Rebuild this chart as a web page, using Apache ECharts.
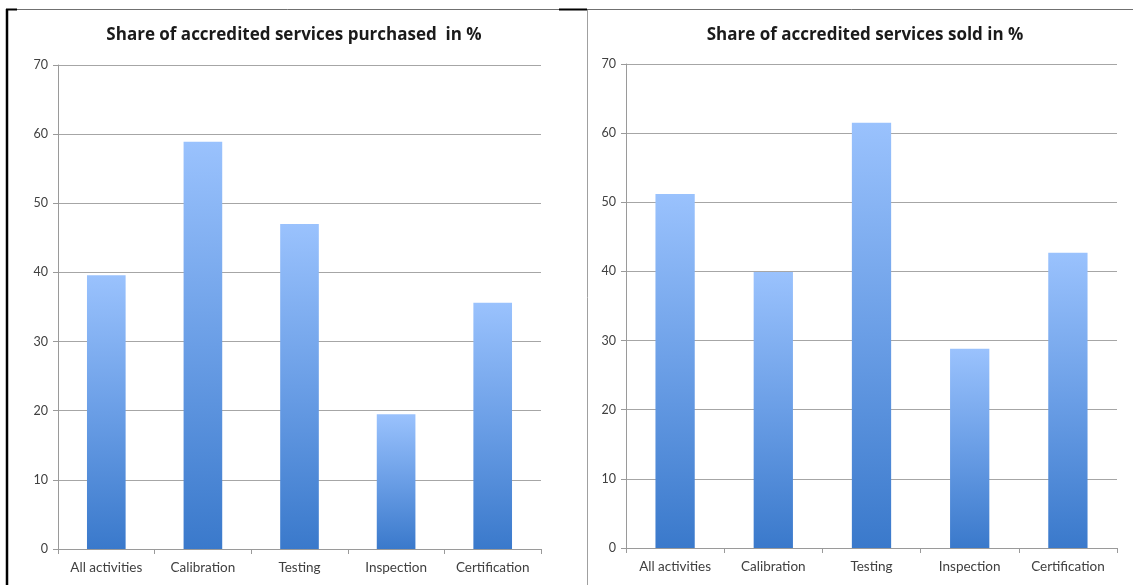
<!DOCTYPE html>
<html>
<head>
<meta charset="utf-8">
<script src="https://cdn.jsdelivr.net/npm/echarts@6/dist/echarts.min.js"></script>
<style>
html,body{margin:0;padding:0;background:#fff;}
#chart{width:1133px;height:585px;}
</style>
</head>
<body>
<div id="chart"></div>
<script>
const categories = ['All activities', 'Calibration', 'Testing', 'Inspection', 'Certification'];
const purchasedValues = [39.6, 58.9, 47.0, 19.5, 35.6];
const soldValues = [51.2, 39.9, 61.5, 28.8, 42.7];
const yTicks = [0, 10, 20, 30, 40, 50, 60, 70];
const titleLeft = 'Share of accredited services purchased  in %';
const titleRight = 'Share of accredited services sold in %';

const FONT = 'Lato, "Open Sans", sans-serif';
const TITLE_FONT = '"Open Sans", Lato, sans-serif';
const barGradient = new echarts.graphic.LinearGradient(0, 0, 0, 1, [
  { offset: 0, color: '#9ac2fd' },
  { offset: 0.5, color: '#6a9ee6' },
  { offset: 1, color: '#3a79cb' }
]);

function xAxis(gridIndex) {
  return {
    type: 'category', gridIndex, data: categories,
    axisLine: { lineStyle: { color: '#9a9a9a', width: 1 } },
    axisTick: { show: true, inside: false, length: 5, alignWithLabel: false, lineStyle: { color: '#9a9a9a' } },
    axisLabel: { color: '#404040', fontFamily: FONT, fontSize: 13.5, margin: 12 }
  };
}
function yAxis(gridIndex) {
  return {
    type: 'value', gridIndex, min: yTicks[0], max: yTicks[yTicks.length - 1], interval: yTicks[1] - yTicks[0],
    axisLine: { show: true, lineStyle: { color: '#9a9a9a', width: 1 } },
    axisTick: { show: true, length: 5, lineStyle: { color: '#9a9a9a' } },
    axisLabel: { color: '#404040', fontFamily: FONT, fontSize: 12.5, margin: 10 },
    splitLine: { show: true, lineStyle: { color: '#a6a6a6', width: 1 } }
  };
}

const chart = echarts.init(document.getElementById('chart'), null, { renderer: 'canvas' });
chart.setOption({
  backgroundColor: '#ffffff',
  animation: false,
  title: [
    { text: titleLeft, left: 289, top: 22, textAlign: 'center',
      textStyle: { fontFamily: TITLE_FONT, fontSize: 17, fontWeight: 'bold', color: '#1a1a1a' } },
    { text: titleRight, left: 860, top: 22, textAlign: 'center',
      textStyle: { fontFamily: TITLE_FONT, fontSize: 17, fontWeight: 'bold', color: '#1a1a1a' } }
  ],
  grid: [
    { left: 58, right: 592, top: 65, bottom: 36 },
    { left: 626, right: 16, top: 64, bottom: 37 }
  ],
  xAxis: [xAxis(0), xAxis(1)],
  yAxis: [yAxis(0), yAxis(1)],
  series: [
    { type: 'bar', xAxisIndex: 0, yAxisIndex: 0, data: purchasedValues, barWidth: '40%',
      itemStyle: { color: barGradient } },
    { type: 'bar', xAxisIndex: 1, yAxisIndex: 1, data: soldValues, barWidth: '40%',
      itemStyle: { color: barGradient } }
  ],
  graphic: [
    { type: 'line', shape: { x1: 6, y1: 9.5, x2: 1133, y2: 9.5 }, style: { stroke: '#707070', lineWidth: 1 } },
    { type: 'line', shape: { x1: 6, y1: 9.5, x2: 17, y2: 9.5 }, style: { stroke: '#000', lineWidth: 2 } },
    { type: 'line', shape: { x1: 559, y1: 9.5, x2: 587, y2: 9.5 }, style: { stroke: '#000', lineWidth: 2 } },
    { type: 'line', shape: { x1: 7, y1: 9, x2: 7, y2: 585 }, style: { stroke: '#000', lineWidth: 2.5 } },
    { type: 'line', shape: { x1: 587.5, y1: 10, x2: 587.5, y2: 585 }, style: { stroke: '#a0a0a0', lineWidth: 1 } }
  ]
});
</script>
</body>
</html>
